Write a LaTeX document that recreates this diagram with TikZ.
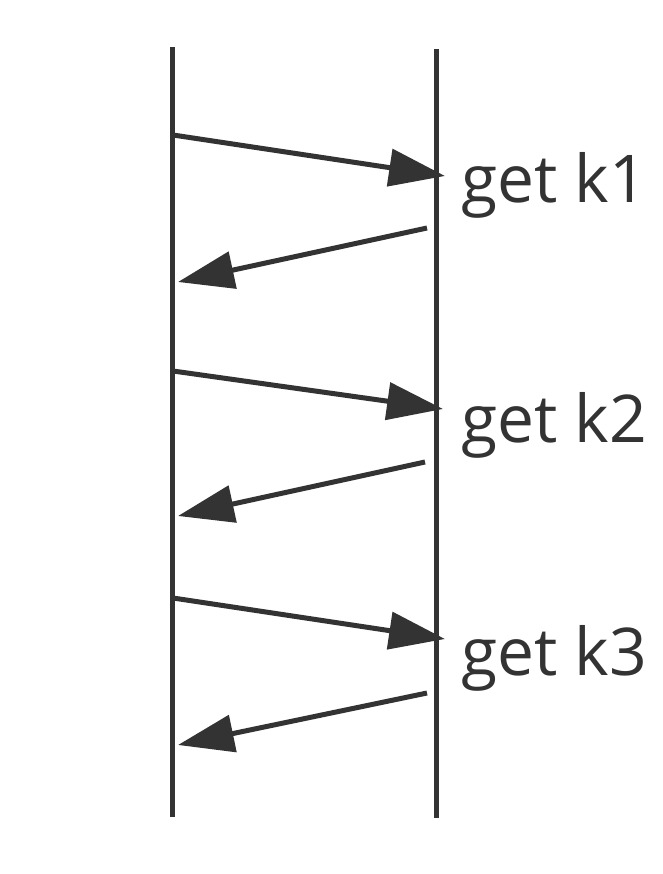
\documentclass[tikz,border=0pt]{standalone}
\usepackage{fontspec}
\setmainfont{Open Sans}
\usetikzlibrary{calc,arrows.meta}
\definecolor{ink}{HTML}{333333}

\begin{document}
\begin{tikzpicture}[x=0.02cm, y=-0.02cm,
    lifeline/.style={draw, ink, line width=0.1cm},
    msg/.style={draw, ink, line width=0.1cm, -{Triangle[length=1.12cm, width=0.74cm]}},
    keytext/.style={inner sep=0pt, anchor=base west, text=ink, font=\fontsize{37.5}{42}\selectfont}]
    \useasboundingbox(0,0)rectangle(662,874);
    % lifelines
    \coordinate(At)at(172,47);
    \coordinate(Ab)at(172,817);
    \coordinate(Bt)at(436,49);
    \coordinate(Bb)at(436,818);
    % requests and replies
    \coordinate(Q1)at(173,135);
    \coordinate(P1)at(445,176);
    \coordinate(Q2)at(427,228);
    \coordinate(P2)at(178,282);
    \coordinate(Q3)at(173,371);
    \coordinate(P3)at(443,409);
    \coordinate(Q4)at(425,462);
    \coordinate(P4)at(178,516);
    \coordinate(Q5)at(173,598);
    \coordinate(P5)at(445,639);
    \coordinate(Q6)at(427,693);
    \coordinate(P6)at(178,745);

    \path[lifeline](At)to(Ab);
    \path[lifeline](Bt)to(Bb);
    \path[msg](Q1)to(P1);
    \path[msg](Q2)to(P2);
    \path[msg](Q3)to(P3);
    \path[msg](Q4)to(P4);
    \path[msg](Q5)to(P5);
    \path[msg](Q6)to(P6);
    % labels
    \node[keytext](k1)at(461,203){get k1};
    \node[keytext](k2)at(461,442){get k2};
    \node[keytext](k3)at(461,675){get k3};
\end{tikzpicture}
\end{document}
